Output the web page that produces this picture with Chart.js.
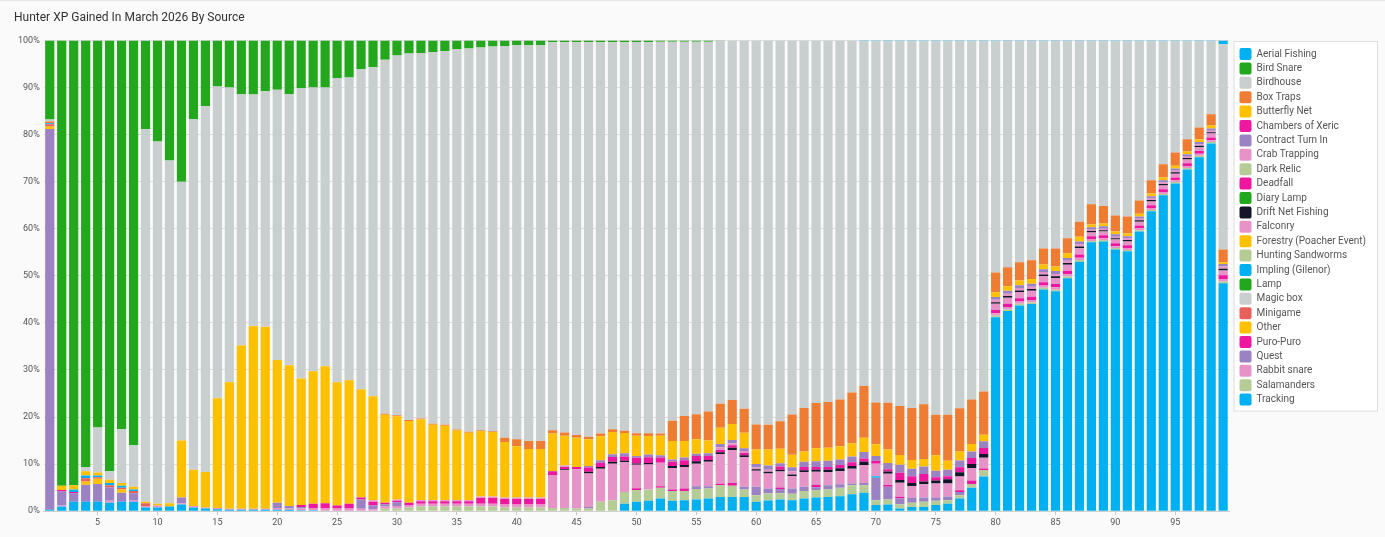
<!DOCTYPE html>
<html>
<head>
<meta charset="utf-8">
<script src="https://cdn.jsdelivr.net/npm/chart.js@4.4.1/dist/chart.umd.min.js"></script>
<style>
  html, body { margin: 0; padding: 0; background: #fafafa; }
  body { border-top: 1px solid #e6e6e6; box-sizing: border-box; }
  #wrap { width: 1385px; height: 536px; position: relative; }
</style>
</head>
<body>
<div id="wrap"><canvas id="hunterChart"></canvas></div>
<script>
// dias del mes (categorias del eje x)
const days = [
  1,2,3,4,5,6,7,8,9,10,11,12,13,14,15,16,17,18,19,20,
  21,22,23,24,25,26,27,28,29,30,31,32,33,34,35,36,37,38,39,40,
  41,42,43,44,45,46,47,48,49,50,51,52,53,54,55,56,57,58,59,60,
  61,62,63,64,65,66,67,68,69,70,71,72,73,74,75,76,77,78,79,80,
  81,82,83,84,85,86,87,88,89,90,91,92,93,94,95,96,97,98,99
];
const yTicks = [0,10,20,30,40,50,60,70,80,90,100];

// valores (% aprox. por columna)
const tracking = [
  0.3,1.0,2.0,2.0,2.0,1.8,2.0,2.0,0.8,0.8,
  1.0,1.4,0.8,0.6,0.4,0.3,0.3,0.3,0.3,0.3,
  0.3,0.2,0.2,0.1,0.1,0.1,0.1,0.1,0,0,
  0,0,0,0,0,0,0,0,0,0,
  0,0,0,0,0,0,0,0,1.6,2.0,
  2.2,2.7,2.2,2.3,2.5,2.7,3.0,3.0,3.0,2.0,
  2.3,2.5,2.3,2.7,2.9,3.0,3.2,3.6,3.9,1.3,
  1.4,0.6,0.9,0.9,1.3,1.6,2.7,5.0,7.4,41.2,
  42.5,43.7,44.0,47.1,46.7,49.5,53.0,57.1,57.3,55.6,
  55.2,59.4,63.7,67.1,69.6,72.6,75.2,78.1,48.4
];
const salamanders = [
  0,0,0,0,0,0,0,0,0,0,
  0,0,0,0,0,0,0,0,0,0,
  0,0,0,0,0,0,0,0,0.5,0.6,
  0.8,1.0,1.0,1.0,1.0,1.0,1.0,1.0,0.8,0.8,
  0.8,0.8,0.7,0.7,0.6,0.6,2.0,2.3,2.5,2.5,
  2.4,2.3,2.1,2.0,2.2,2.1,2.5,2.4,1.6,1.4,
  1.5,1.3,1.4,1.6,1.6,1.6,1.8,1.9,1.6,1.0,
  1.1,0.9,0.9,1.1,0.9,0.7,0.7,0.8,1.3,0.35,
  0.35,0.35,0.35,0.35,0.35,0.35,0.35,0.3,0.3,0.3,
  0.3,0.3,0.3,0.3,0.3,0.3,0.3,0.3,0.4
];
const rabbitSnare = [
  0,0.2,0,0,0,0.4,0,0.4,0.3,0.4,
  0,0.3,0.3,0.2,0.3,0.2,0.2,0.2,0.2,0.4,
  0.3,0.4,0.4,0.5,0.5,0.5,0.4,0.3,0.5,0.5,
  0.5,0.6,0.6,0.6,0.6,0.6,0.6,0.6,0.6,0.6,
  0.6,0.6,0,0,0,0,0,0,0,0,
  0,0,0,0,0,0,0,0,0,0,
  0,0,0,0,0,0,0,0,0,0,
  0,0,0,0,0,0,0,0,0,0.5,
  0.5,0.5,0.5,0.5,0.5,0.5,0.5,0.4,0.4,0.4,
  0.4,0.4,0.4,0.4,0.4,0.4,0.4,0.4,0.5
];
const quest = [
  80.9,3.0,1.8,3.6,3.8,2.9,1.9,1.4,0,0,
  0,1.2,0,0,0,0,0,0,0,1.1,
  0.5,0.3,0,0,0,0,2.0,0.8,0.5,0.8,
  0,0,0,0,0,0,0,0,0,0,
  0,0,0,0,0,0.3,0,0,0,0,
  0,0,0,0,0.6,0.5,0,0,0.6,1.8,
  1.0,0.9,1.1,0.9,0.6,0.9,0.7,0.4,0.5,4.8,
  2.7,1.2,1.1,0.9,0.7,0.8,0.7,0,0,0
];
const puroPuro = [
  0,0.3,0.3,0,0,0,0,0,0,0,
  0,0,0,0,0,0,0,0,0,0,
  0,0,0,0,0,0,0,0,0,0,
  0,0,0,0,0,0,0,0,0,0,
  0,0,0,0,0,0,0,0,0,0.35,
  0,0.3,0.3,0.5,0,0,0.35,0.6,0,0,
  0,0.35,0,0,0.5,0,0,0,0,0,
  0.35,0.35,0,0,0,0,0.35,0.7,0.35,0.7,
  0.7,0.7,0.7,0.7,0.7,0.7,0.7,0.6,0.6,0.6,
  0.6,0.6,0.6,0.6,0.6,0.6,0.6,0.6,0.8
];
const other = [0.5,0,0,0.7,1.1,0,0.7];
const minigame = [0.5,0,0,0.7,0.3,0.4,0.4,0.5,0.6];
const magicBox = [];
const lamp = [];
const impling = [
  0.2,0,0.5,0.6,0.4,0.5,0.4,0.3,0,0,
  0,0,0,0,0,0,0,0,0,0,
  0,0,0,0,0,0,0,0,0,0,
  0,0,0,0,0,0,0,0,0,0,
  0,0,0,0,0,0,0,0,0,0,
  0,0,0,0,0,0,0,0,0,0,
  0,0,0,0,0,0,0,0,0,0.3
];
const huntingSandworms = [];
const forestry = [];
const falconry = [
  0,0,0,0,0,0,0,0,0,0,
  0,0,0,0,0,0,0,0,0,0,
  0,0,0,0,0,0,0,0,0,0,
  0,0,0,0,0,0,0,0,0,0,
  0,0,6.9,8.0,8.3,7.1,7.0,7.8,6.3,5.0,
  5.3,5.0,4.5,4.6,4.8,5.2,6.3,7.0,6.3,3.4,
  3.2,3.4,2.6,3.1,2.8,2.8,2.8,3.1,3.8,2.7,
  2.4,3.0,2.4,2.8,3.0,2.8,2.9,2.7,2.3,1.3,
  1.3,1.3,1.3,1.3,1.3,1.3,1.3,0.8,0.8,0.8,
  0.8,0.8,0.8,0.8,0.8,0.8,0.8,0.8,1.0
];
const driftNetFishing = [
  0,0,0,0,0,0,0,0,0,0,
  0,0,0,0,0,0,0,0,0,0,
  0,0,0,0,0,0,0,0,0,0,
  0,0,0,0,0,0,0,0,0,0,
  0,0,0,0.2,0,0.4,0.4,0.4,0.3,0.3,
  0.35,0,0.5,0.4,0.5,0.4,0.35,0.5,0.4,0.3,
  0.4,0.35,0.4,0.4,0.4,0.5,0.6,0.6,0.7,0,
  0.5,0.6,0.7,0.6,0.6,0.9,0.9,0.8,0.8,0.35,
  0.35,0.35,0.35,0.35,0.35,0.35,0.35,0.3,0.3,0.3,
  0.3,0.3,0.3,0.3,0.3,0.3,0.3,0.3,0.4
];
const diaryLamp = [];
const deadfall = [
  0,0,0,0,0,0,0,0,0,0,
  0,0,0,0,0,0,0,0,0,0,
  0,0.4,1.0,1.1,0.6,1.0,0.4,0.8,0.3,0.3,
  0.5,0.5,0.5,0.5,0.5,0.5,1.2,1.2,1.2,1.2,
  1.2,1.2,0.9,0.5,0.5,0.9,0.9,1.0,0.9,1.2,
  1.2,1.1,0.9,1.0,1.1,0.8,0.5,0.5,0.5,0,
  0,0.7,0,0.7,0.6,0.6,0.7,0.8,0.7,0.6,
  0.5,1.5,1.4,1.6,0.7,0.6,1.1,1.3,1.3
];
const darkRelic = [];
const crabTrapping = [
  0,0,0,0,0,0,0,0,0,0,
  0,0,0,0,0,0,0,0,0,0,
  0,0,0,0,0,0,0,0.3,0,0.3,
  0,0.3,0.3,0.3,0.3,0.3,0.3,0.3,0.3,0.3,
  0.3,0.3,0,0.3,0,0,0,0,0,0,
  0,0,0,0,0,0,0.6,0.4,0.4,0.4,
  0.4,0,0.7,0,0,0,0,0,0,0,
  0,0,0,0,0,0,0,0,0,0.5,
  0.5,0.5,0.5,0.5,0.5,0.5,0.5,0.3,0.3,0.3,
  0.3,0.3,0.3,0.3,0.3,0.3,0.3,0.3,0.5
];
const contractTurnIn = [
  0,0,0,0,0,0,0,0,0,0,
  0,0,0,0,0,0,0,0,0,0,
  0,0,0,0,0,0,0,0,0,0,
  0,0,0,0,0,0,0,0,0,0,
  0,0,0,0,0,0.3,0.5,0.6,0.7,0.4,
  0.6,0.5,0.5,0.6,0.5,0.6,0.7,0.7,0.6,0.7,
  0.9,0.7,0.8,1.1,1.2,1.3,1.2,1.2,1.4,1.0,
  1.3,1.7,1.6,1.6,1.4,1.4,1.4,1.4,1.4,0.6,
  0.6,0.6,0.6,0.6,0.6,0.6,0.6,0.5,0.5,0.5,
  0.5,0.5,0.5,0.5,0.5,0.5,0.5,0.5,0.5
];
const chambersOfXeric = [];
const butterflyNet = [
  0,0.9,0.9,0.9,0.6,0.7,0.6,0.6,0.3,0.4,
  0.7,12.1,7.7,7.5,23.3,26.9,34.7,38.8,38.7,30.3,
  29.9,26.9,28.1,29.1,26.2,26.2,23.0,22.1,18.7,17.7,
  17.4,17.1,16.0,15.8,14.8,14.3,13.9,13.7,11.8,10.9,
  10.3,10.3,8.0,6.3,6.2,5.7,5.1,4.7,4.3,4.3,
  3.9,4.1,3.9,3.5,3.1,2.7,3.4,3.4,3.3,3.1,
  3.4,3.1,2.7,2.2,2.8,2.8,2.8,2.8,3.0,2.5,
  2.9,2.1,1.9,1.6,3.3,1.9,1.9,1.6,1.4,1.0,
  1.0,1.0,1.0,1.0,1.0,1.0,1.0,0.6,0.6,0.6,
  0.6,0.6,0.6,0.6,0.6,0.6,0.6,0.6,0.4
];
const boxTraps = [
  0.4,0,0,0,0,0,0,0,0,0,
  0,0,0,0,0,0,0,0,0,0,
  0,0,0,0,0,0,0,0,0.2,0.2,
  0.2,0.2,0.2,0.2,0.2,0.2,0.2,0.2,0.9,1.5,
  1.7,1.7,0.7,0.7,0.6,0.5,0.6,0.6,0.5,0.5,
  0.6,0.5,4.3,5.3,5.3,6.2,5.1,5.1,5.1,5.3,
  5.3,5.8,8.5,9.2,9.6,9.7,9.9,10.8,11.0,8.9,
  9.9,10.4,11.0,11.6,8.6,9.8,9.2,9.4,9.2,4.2,
  4.0,3.9,4.0,3.4,3.8,3.2,3.2,4.3,3.7,3.4,
  3.6,2.8,2.8,2.8,2.8,2.6,2.5,2.4,2.7
];
const birdhouse = [
  0.4,0,0,0.9,9.6,1.8,11.4,8.8,79.2,76.9,
  72.8,55.0,74.5,77.7,66.2,62.6,53.4,49.2,50.0,57.4,
  57.6,61.8,60.3,59.2,64.6,64.3,68.0,69.9,75.2,76.6,
  78.0,77.6,79.1,79.5,80.9,81.6,81.3,81.7,83.2,83.7,
  84.1,84.1,82.4,82.9,83.4,83.8,83.1,82.2,82.5,83.1,
  83.1,83.2,80.5,79.5,79.1,78.5,77.1,76.4,78.3,81.6,
  81.7,81.0,79.4,78.1,77.1,76.8,76.3,74.7,73.2,76.7,
  76.9,77.5,77.9,77.1,79.3,79.3,77.9,76.1,74.4,49.1,
  48.0,46.9,46.5,44.0,44.0,41.8,38.3,34.6,35.0,37.0,
  37.2,33.8,29.5,26.1,23.6,20.8,18.3,15.5,43.6
];
const birdSnare = [
  16.8,94.6,94.5,90.6,82.2,91.5,82.6,86.0,18.8,21.5,
  25.5,30.0,16.7,14.0,9.8,10.0,11.4,11.5,10.8,10.5,
  11.4,10.1,10.0,10.0,8.0,7.9,6.1,5.7,4.1,3.2,
  2.8,2.7,2.5,2.3,1.9,1.7,1.5,1.3,1.2,1.0,
  1.0,1.0,0.4,0.4,0.4,0.4,0.4,0.4,0.4,0.35,
  0.35,0.3,0.3,0.3,0.3,0.3,0.1
];
const aerialFishing = [
  0,0,0,0,0,0,0,0,0.1,0,
  0,0,0,0,0,0,0,0,0,0,
  0,0,0,0,0,0,0,0,0,0,
  0,0,0,0,0,0,0,0,0,0,
  0,0,0,0,0,0,0,0,0,0,
  0,0,0,0,0,0,0,0,0,0,
  0,0,0,0,0,0,0,0,0.2,0.2,
  0.2,0.2,0.2,0.2,0.2,0.2,0.2,0.2,0.2,0.2,
  0.2,0.2,0.2,0.2,0.2,0.2,0.2,0.2,0.2,0.2,
  0.2,0.2,0.2,0.2,0.2,0.2,0.2,0.2,0.8
];

// orden de apilado: de abajo hacia arriba
const series = [
  ['Tracking', tracking],
  ['Salamanders', salamanders],
  ['Rabbit snare', rabbitSnare],
  ['Quest', quest],
  ['Puro-Puro', puroPuro],
  ['Other', other],
  ['Minigame', minigame],
  ['Magic box', magicBox],
  ['Lamp', lamp],
  ['Impling (Gilenor)', impling],
  ['Hunting Sandworms', huntingSandworms],
  ['Forestry (Poacher Event)', forestry],
  ['Falconry', falconry],
  ['Drift Net Fishing', driftNetFishing],
  ['Diary Lamp', diaryLamp],
  ['Deadfall', deadfall],
  ['Dark Relic', darkRelic],
  ['Crab Trapping', crabTrapping],
  ['Contract Turn In', contractTurnIn],
  ['Chambers of Xeric', chambersOfXeric],
  ['Butterfly Net', butterflyNet],
  ['Box Traps', boxTraps],
  ['Birdhouse', birdhouse],
  ['Bird Snare', birdSnare],
  ['Aerial Fishing', aerialFishing]
];

const colores = {
  'Tracking': '#00b0f0', 'Salamanders': '#b6cc96', 'Rabbit snare': '#e694c8',
  'Quest': '#9b82c3', 'Puro-Puro': '#ee17a0', 'Other': '#ffc000',
  'Minigame': '#e8605a', 'Magic box': '#c9cfcf', 'Lamp': '#22a71d',
  'Impling (Gilenor)': '#00b0f0', 'Hunting Sandworms': '#b6cc96',
  'Forestry (Poacher Event)': '#ffc000', 'Falconry': '#e694c8',
  'Drift Net Fishing': '#15152a', 'Diary Lamp': '#22a71d', 'Deadfall': '#ee17a0',
  'Dark Relic': '#b6cc96', 'Crab Trapping': '#e694c8', 'Contract Turn In': '#9b82c3',
  'Chambers of Xeric': '#ee17a0', 'Butterfly Net': '#ffc000', 'Box Traps': '#ee7d33',
  'Birdhouse': '#c9cfcf', 'Bird Snare': '#22a71d', 'Aerial Fishing': '#00b0f0'
};

// cada columna se lleva al 100%
const totales = days.map((d, i) => series.reduce((s, ser) => s + (ser[1][i] || 0), 0));

const datasets = series.map(([nombre, valores]) => ({
  label: nombre,
  data: days.map((d, i) => (valores[i] || 0) / totales[i] * 100),
  backgroundColor: colores[nombre],
  borderWidth: 0,
  categoryPercentage: 0.8,
  barPercentage: 0.96
}));

const marcoLeyenda = {
  id: 'marcoLeyenda',
  beforeDraw(chart) {
    const cajas = chart.legend && chart.legend.legendHitBoxes;
    if (!cajas || !cajas.length) return;
    const izq = Math.min(...cajas.map(c => c.left));
    const arr = Math.min(...cajas.map(c => c.top));
    const der = Math.max(...cajas.map(c => c.left + c.width));
    const aba = Math.max(...cajas.map(c => c.top + c.height));
    const ctx = chart.ctx;
    ctx.save();
    ctx.fillStyle = '#ffffff';
    ctx.strokeStyle = '#dedede';
    ctx.lineWidth = 1;
    ctx.fillRect(izq - 5, arr - 6, der - izq + 17, aba - arr + 12);
    ctx.strokeRect(izq - 5.5, arr - 6.5, der - izq + 17, aba - arr + 12);
    ctx.restore();
  }
};

Chart.defaults.font.family = 'Roboto, "Noto Sans", sans-serif';
Chart.defaults.color = '#555';

new Chart(document.getElementById('hunterChart'), {
  type: 'bar',
  data: { labels: days, datasets: datasets },
  plugins: [marcoLeyenda],
  options: {
    responsive: true,
    maintainAspectRatio: false,
    animation: false,
    layout: { padding: { left: 14, right: 9, top: 1, bottom: 7 } },
    plugins: {
      title: {
        display: true,
        text: 'Hunter XP Gained In March 2026 By Source',
        align: 'start',
        color: '#333',
        font: { size: 12, weight: 'normal' },
        padding: { top: 9, bottom: 15 }
      },
      legend: {
        position: 'right',
        align: 'start',
        fullSize: false,
        reverse: true,
        title: { display: true, text: '', padding: 2, font: { size: 1 } },
        labels: {
          boxWidth: 12,
          boxHeight: 12,
          padding: 2.4,
          useBorderRadius: true,
          borderRadius: 2,
          color: '#555',
          font: { size: 10 }
        }
      },
      tooltip: { enabled: false }
    },
    scales: {
      x: {
        stacked: true,
        grid: {
          offset: false,
          drawOnChartArea: false,
          tickLength: 4,
          color: ctx => (days[ctx.index] % 5 === 0 ? '#c8c8c8' : 'rgba(0,0,0,0)')
        },
        border: { color: '#cfcfcf' },
        ticks: {
          autoSkip: false,
          maxRotation: 0,
          padding: 2,
          font: { size: 9 },
          color: '#555',
          callback: (v, i) => (days[i] % 5 === 0 ? String(days[i]) : '')
        }
      },
      y: {
        stacked: true,
        min: yTicks[0],
        max: yTicks[yTicks.length - 1],
        afterBuildTicks: axis => { axis.ticks = yTicks.map(v => ({ value: v })); },
        grid: { color: '#dcdcdc', drawTicks: false },
        border: { display: false },
        ticks: {
          padding: 4,
          font: { size: 9 },
          color: '#555',
          callback: v => v + '%'
        }
      },
      // hueco entre el area de barras y la leyenda
      hueco: {
        position: 'right',
        display: true,
        grid: { display: false },
        border: { display: false },
        ticks: { display: false },
        afterFit: axis => { axis.width = 8; }
      }
    }
  }
});
</script>
</body>
</html>
